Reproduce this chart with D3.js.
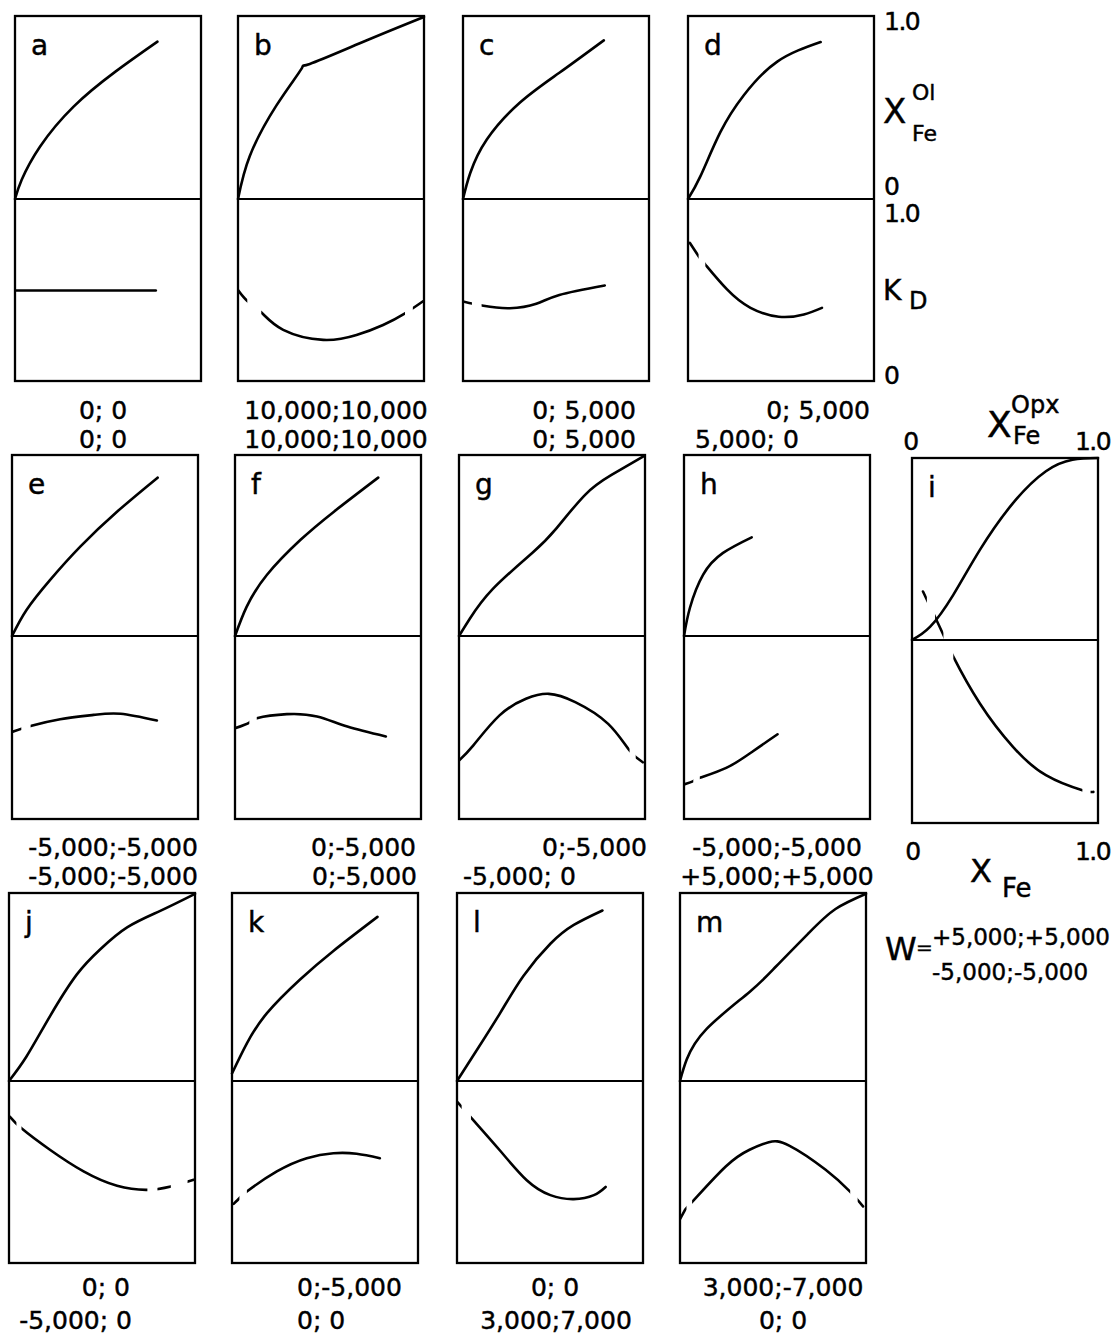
<!DOCTYPE html>
<html>
<head>
<meta charset="utf-8">
<script src="https://cdn.jsdelivr.net/npm/d3@7"></script>
<style>
  body { margin: 0; background: #fff; }
  text { font-family: "DejaVu Sans", sans-serif; fill: #000; stroke: #000; stroke-width: 0.45px; }
</style>
</head>
<body>
<svg id="chart" width="1119" height="1338"></svg>
<script>
// Panel identifiers, in drawing order
const panelIds = ["a", "b", "c", "d", "e", "f", "g", "h", "i", "j", "k", "l", "m"];

// X_Fe(Ol) against X_Fe(Opx) for each panel (upper half)
const olCurves = [
  [[0,0],[0.036,0.105],[0.135,0.287],[0.315,0.505],[0.54,0.696],[0.766,0.86]],
  [[0,0],[0.063,0.234],[0.206,0.51],[0.341,0.711],[0.386,0.738],[0.69,0.866],[1.0,0.995]],
  [[0,0],[0.039,0.142],[0.128,0.325],[0.305,0.526],[0.518,0.69],[0.757,0.867]],
  [[0,0],[0.067,0.125],[0.174,0.365],[0.3,0.567],[0.48,0.751],[0.713,0.858]],
  [[0,0],[0.078,0.144],[0.204,0.309],[0.367,0.494],[0.566,0.688],[0.783,0.875]],
  [[0,0],[0.063,0.162],[0.171,0.337],[0.351,0.53],[0.532,0.687],[0.77,0.875]],
  [[0,0],[0.058,0.095],[0.182,0.26],[0.395,0.46],[0.519,0.589],[0.678,0.78],[0.82,0.89],[0.996,0.995]],
  [[0,0],[0.032,0.156],[0.103,0.339],[0.21,0.459],[0.364,0.545]],
  [[0,0],[0.098,0.073],[0.222,0.248],[0.365,0.495],[0.543,0.752],[0.72,0.927],[0.863,0.99],[1.0,1.0]],
  [[0,0],[0.094,0.13],[0.22,0.344],[0.365,0.567],[0.491,0.701],[0.635,0.817],[0.816,0.906],[1.0,0.995]],
  [[0,0.04],[0.08,0.2],[0.188,0.361],[0.366,0.54],[0.545,0.692],[0.782,0.873]],
  [[0,0],[0.105,0.162],[0.231,0.36],[0.357,0.559],[0.502,0.73],[0.628,0.83],[0.782,0.907]],
  [[0,0],[0.036,0.114],[0.142,0.276],[0.374,0.474],[0.516,0.609],[0.694,0.789],[0.836,0.915],[1.0,0.996]]
];

// K_D against X_Fe for each panel (lower half)
const kdCurves = [
  [[0,0.497],[0.757,0.497]],
  [[0,0.50],[0.05,0.44],[0.126,0.376],[0.243,0.281],[0.458,0.226],[0.637,0.253],[0.78,0.308],[0.898,0.372],[0.993,0.437]],
  [[0,0.437],[0.11,0.413],[0.252,0.40],[0.394,0.424],[0.518,0.473],[0.762,0.525]],
  [[0.01,0.759],[0.057,0.686],[0.093,0.64],[0.21,0.503],[0.336,0.402],[0.488,0.353],[0.623,0.366],[0.72,0.402]],
  [[0,0.476],[0.105,0.509],[0.259,0.545],[0.439,0.569],[0.584,0.575],[0.779,0.538]],
  [[0,0.496],[0.077,0.527],[0.117,0.551],[0.279,0.573],[0.441,0.56],[0.604,0.505],[0.811,0.451]],
  [[0,0.319],[0.076,0.401],[0.218,0.566],[0.36,0.657],[0.483,0.684],[0.625,0.639],[0.802,0.52],[0.917,0.374],[0.988,0.31]],
  [[0,0.189],[0.05,0.207],[0.085,0.225],[0.227,0.279],[0.369,0.369],[0.503,0.463]],
  [[0.059,1.265],[0.169,1.027],[0.222,0.909],[0.365,0.653],[0.543,0.416],[0.72,0.261],[0.916,0.179],[0.975,0.17]],
  [[0.004,0.804],[0.067,0.74],[0.22,0.622],[0.401,0.503],[0.581,0.424],[0.744,0.402],[0.87,0.42],[0.993,0.457]],
  [[0.009,0.325],[0.04,0.356],[0.08,0.393],[0.241,0.503],[0.402,0.576],[0.545,0.603],[0.67,0.6],[0.795,0.576]],
  [[0.005,0.882],[0.078,0.796],[0.231,0.618],[0.375,0.455],[0.502,0.373],[0.628,0.351],[0.736,0.373],[0.799,0.418]],
  [[0,0.241],[0.027,0.292],[0.068,0.338],[0.246,0.53],[0.374,0.622],[0.477,0.664],[0.587,0.645],[0.783,0.512],[0.913,0.393],[0.984,0.311]]
];

// X_Fe ranges where the K_D curve is drawn; breaks mark the extrapolated ends
const kdPieces = [
  [[0,1]],
  [[0,0.05],[0.125,0.898],[0.94,1]],
  [[0,0.048],[0.1,1]],
  [[0,0.057],[0.093,1]],
  [[0,0.05],[0.1,1]],
  [[0,0.077],[0.117,1]],
  [[0,0.917],[0.95,1]],
  [[0,0.05],[0.085,1]],
  [[0,0.08],[0.124,0.169],[0.222,0.916],[0.96,1]],
  [[0,0.04],[0.067,0.744],[0.798,0.87],[0.96,1]],
  [[0,0.04],[0.08,1]],
  [[0,0.025],[0.075,1]],
  [[0,0.035],[0.065,0.915],[0.955,1]]
];

// Margules parameters W (two lines) for each panel
const wLabels = [
  ["0; 0", "0; 0"],
  ["10,000;10,000", "10,000;10,000"],
  ["0; 5,000", "0; 5,000"],
  ["0; 5,000", "5,000; 0"],
  ["-5,000;-5,000", "-5,000;-5,000"],
  ["0;-5,000", "0;-5,000"],
  ["0;-5,000", "-5,000; 0"],
  ["-5,000;-5,000", "+5,000;+5,000"],
  ["+5,000;+5,000", "-5,000;-5,000"],
  ["0; 0", "-5,000; 0"],
  ["0;-5,000", "0; 0"],
  ["0; 0", "3,000;7,000"],
  ["3,000;-7,000", "0; 0"]
];

// Tick labels for the shared axes
const axisTicks = [0, 1];
const tickText = d => (d === 0 ? "0" : "1.0");

// Page layout: panel frames and label anchors
const PW = 186;
const layout = [
  { x: 15,  top: 16,  mid: 199,  bottom: 381,  lab: [[103, "middle"], [103, "middle"]], labY: [419, 448] },
  { x: 238, top: 16,  mid: 199,  bottom: 381,  lab: [[336, "middle"], [336, "middle"]], labY: [419, 448] },
  { x: 463, top: 16,  mid: 199,  bottom: 381,  lab: [[636, "end"], [636, "end"]],       labY: [419, 448] },
  { x: 688, top: 16,  mid: 199,  bottom: 381,  lab: [[870, "end"], [695, "start"]],     labY: [419, 448] },
  { x: 12,  top: 455, mid: 636,  bottom: 819,  lab: [[113, "middle"], [113, "middle"]], labY: [856, 885] },
  { x: 235, top: 455, mid: 636,  bottom: 819,  lab: [[416, "end"], [417, "end"]],       labY: [856, 885] },
  { x: 459, top: 455, mid: 636,  bottom: 819,  lab: [[647, "end"], [463, "start"]],     labY: [856, 885] },
  { x: 684, top: 455, mid: 636,  bottom: 819,  lab: [[777, "middle"], [777, "middle"]], labY: [856, 885] },
  { x: 912, top: 458, mid: 640,  bottom: 823,  lab: [[1110, "end"], [1110, "end"]],     labY: [945, 980] },
  { x: 9,   top: 893, mid: 1081, bottom: 1263, lab: [[130, "end"], [132, "end"]],       labY: [1296, 1329] },
  { x: 232, top: 893, mid: 1081, bottom: 1263, lab: [[297, "start"], [297, "start"]],   labY: [1296, 1329] },
  { x: 457, top: 893, mid: 1081, bottom: 1263, lab: [[555, "middle"], [556, "middle"]], labY: [1296, 1329] },
  { x: 680, top: 893, mid: 1081, bottom: 1263, lab: [[783, "middle"], [783, "middle"]], labY: [1296, 1329] }
];

const svg = d3.select("#chart");
const defs = svg.append("defs");

function scalesFor(k) {
  const L = layout[k];
  return {
    x: d3.scaleLinear().domain([0, 1]).range([L.x, L.x + PW]),
    yOl: d3.scaleLinear().domain([0, 1]).range([L.mid, L.top]),
    yKd: d3.scaleLinear().domain([0, 1]).range([L.bottom, L.mid])
  };
}

// smooth spline through the read-off points
const curveType = d3.curveNatural;

panelIds.forEach((id, k) => {
  const L = layout[k];
  const s = scalesFor(k);
  const g = svg.append("g").attr("class", "panel panel-" + id);

  // frame and the dividing line between the two halves
  g.append("rect")
    .attr("x", s.x(0)).attr("y", s.yOl(1))
    .attr("width", s.x(1) - s.x(0)).attr("height", s.yKd(0) - s.yOl(1))
    .attr("fill", "none").attr("stroke", "#000").attr("stroke-width", 2.3);
  g.append("line")
    .attr("x1", s.x(0)).attr("x2", s.x(1))
    .attr("y1", s.yOl(0)).attr("y2", s.yOl(0))
    .attr("stroke", "#000").attr("stroke-width", 2.1);

  // olivine composition curve
  g.append("path")
    .datum(olCurves[k])
    .attr("d", d3.line().x(d => s.x(d[0])).y(d => s.yOl(d[1])).curve(curveType))
    .attr("fill", "none").attr("stroke", "#000")
    .attr("stroke-width", 2.6).attr("stroke-linecap", "round");

  // K_D curve, broken where extrapolated
  const clipId = "kd-clip-" + id;
  const clip = defs.append("clipPath").attr("id", clipId);
  kdPieces[k].forEach(p => {
    clip.append("rect")
      .attr("x", s.x(p[0])).attr("y", 0)
      .attr("width", s.x(p[1]) - s.x(p[0])).attr("height", 1338);
  });
  g.append("path")
    .datum(kdCurves[k])
    .attr("d", d3.line().x(d => s.x(d[0])).y(d => s.yKd(d[1])).curve(curveType))
    .attr("clip-path", `url(#${clipId})`)
    .attr("fill", "none").attr("stroke", "#000")
    .attr("stroke-width", 2.6).attr("stroke-linecap", "round");

  // panel letter
  g.append("text")
    .attr("x", L.x + 16).attr("y", L.top + 39)
    .attr("font-size", 28)
    .text(id);

  // W values below the panel (legend for panel i)
  if (id !== "i") {
    wLabels[k].forEach((t, r) => {
      g.append("text")
        .attr("x", L.lab[r][0]).attr("y", L.labY[r])
        .attr("text-anchor", L.lab[r][1])
        .attr("font-size", 25)
        .text(t);
    });
  }
});

// Legend for panel i: "W = ..." beside panel m
const legend = svg.append("g").attr("class", "legend");
legend.append("text").attr("x", 885).attr("y", 960).attr("font-size", 32).text("W");
legend.append("text").attr("x", 916).attr("y", 954).attr("font-size", 20).text("=");
wLabels[8].forEach((t, r) => {
  legend.append("text")
    .attr("x", 932).attr("y", layout[8].labY[r])
    .attr("font-size", 23)
    .text(t);
});

// Axis labels on the right of panel d
const sd = scalesFor(3);
const olAxis = svg.append("g")
  .attr("transform", `translate(${sd.x(1)},0)`)
  .call(d3.axisRight(sd.yOl).tickValues(axisTicks).tickFormat(tickText).tickSize(0).tickPadding(10));
olAxis.select(".domain").remove();
olAxis.selectAll("text")
  .attr("font-size", 25).attr("font-family", "DejaVu Sans").attr("letter-spacing", -1.5)
  .attr("dy", d => (d === 0 ? "-0.17em" : "0.55em"));

const kdAxis = svg.append("g")
  .attr("transform", `translate(${sd.x(1)},0)`)
  .call(d3.axisRight(sd.yKd).tickValues(axisTicks).tickFormat(tickText).tickSize(0).tickPadding(10));
kdAxis.select(".domain").remove();
kdAxis.selectAll("text")
  .attr("font-size", 25).attr("font-family", "DejaVu Sans").attr("letter-spacing", -1.5)
  .attr("dy", d => (d === 0 ? "0.1em" : "0.88em"));

// Axis labels above and below panel i
const si = scalesFor(8);
const topAxis = svg.append("g")
  .attr("transform", `translate(0,${layout[8].top})`)
  .call(d3.axisTop(si.x).tickValues(axisTicks).tickFormat(tickText).tickSize(0).tickPadding(8));
topAxis.select(".domain").remove();
topAxis.selectAll("text")
  .attr("font-size", 25).attr("font-family", "DejaVu Sans").attr("letter-spacing", -1.5)
  .attr("dx", d => (d === 0 ? -2 : -6));

const botAxis = svg.append("g")
  .attr("transform", `translate(0,${layout[8].bottom})`)
  .call(d3.axisBottom(si.x).tickValues(axisTicks).tickFormat(tickText).tickSize(0).tickPadding(19));
botAxis.select(".domain").remove();
botAxis.selectAll("text")
  .attr("font-size", 25).attr("font-family", "DejaVu Sans").attr("letter-spacing", -1.5)
  .attr("dx", d => (d === 0 ? 0 : -6));

// Symbols with super- and subscripts
function symbol(x, y, main, mainSize, sup, sub, smallSize, dx) {
  const gg = svg.append("g");
  gg.append("text").attr("x", x).attr("y", y).attr("font-size", mainSize).text(main);
  if (sup) gg.append("text").attr("x", x + dx).attr("y", y - mainSize * 0.68).attr("font-size", smallSize).text(sup);
  if (sub) gg.append("text").attr("x", x + dx).attr("y", y + smallSize * 0.8).attr("font-size", smallSize).text(sub);
}
symbol(883, 123, "X", 34, "Ol", "Fe", 22, 29);
symbol(883, 300, "K", 28, null, null, 24, 0);
svg.append("text").attr("x", 909).attr("y", 309).attr("font-size", 24).text("D");
symbol(987, 437, "X", 36, "Opx", null, 24, 24);
svg.append("text").attr("x", 1013).attr("y", 444).attr("font-size", 24).text("Fe");
symbol(970, 882, "X", 32, null, null, 26, 0);
svg.append("text").attr("x", 1002).attr("y", 897).attr("font-size", 26).text("Fe");
</script>
</body>
</html>
